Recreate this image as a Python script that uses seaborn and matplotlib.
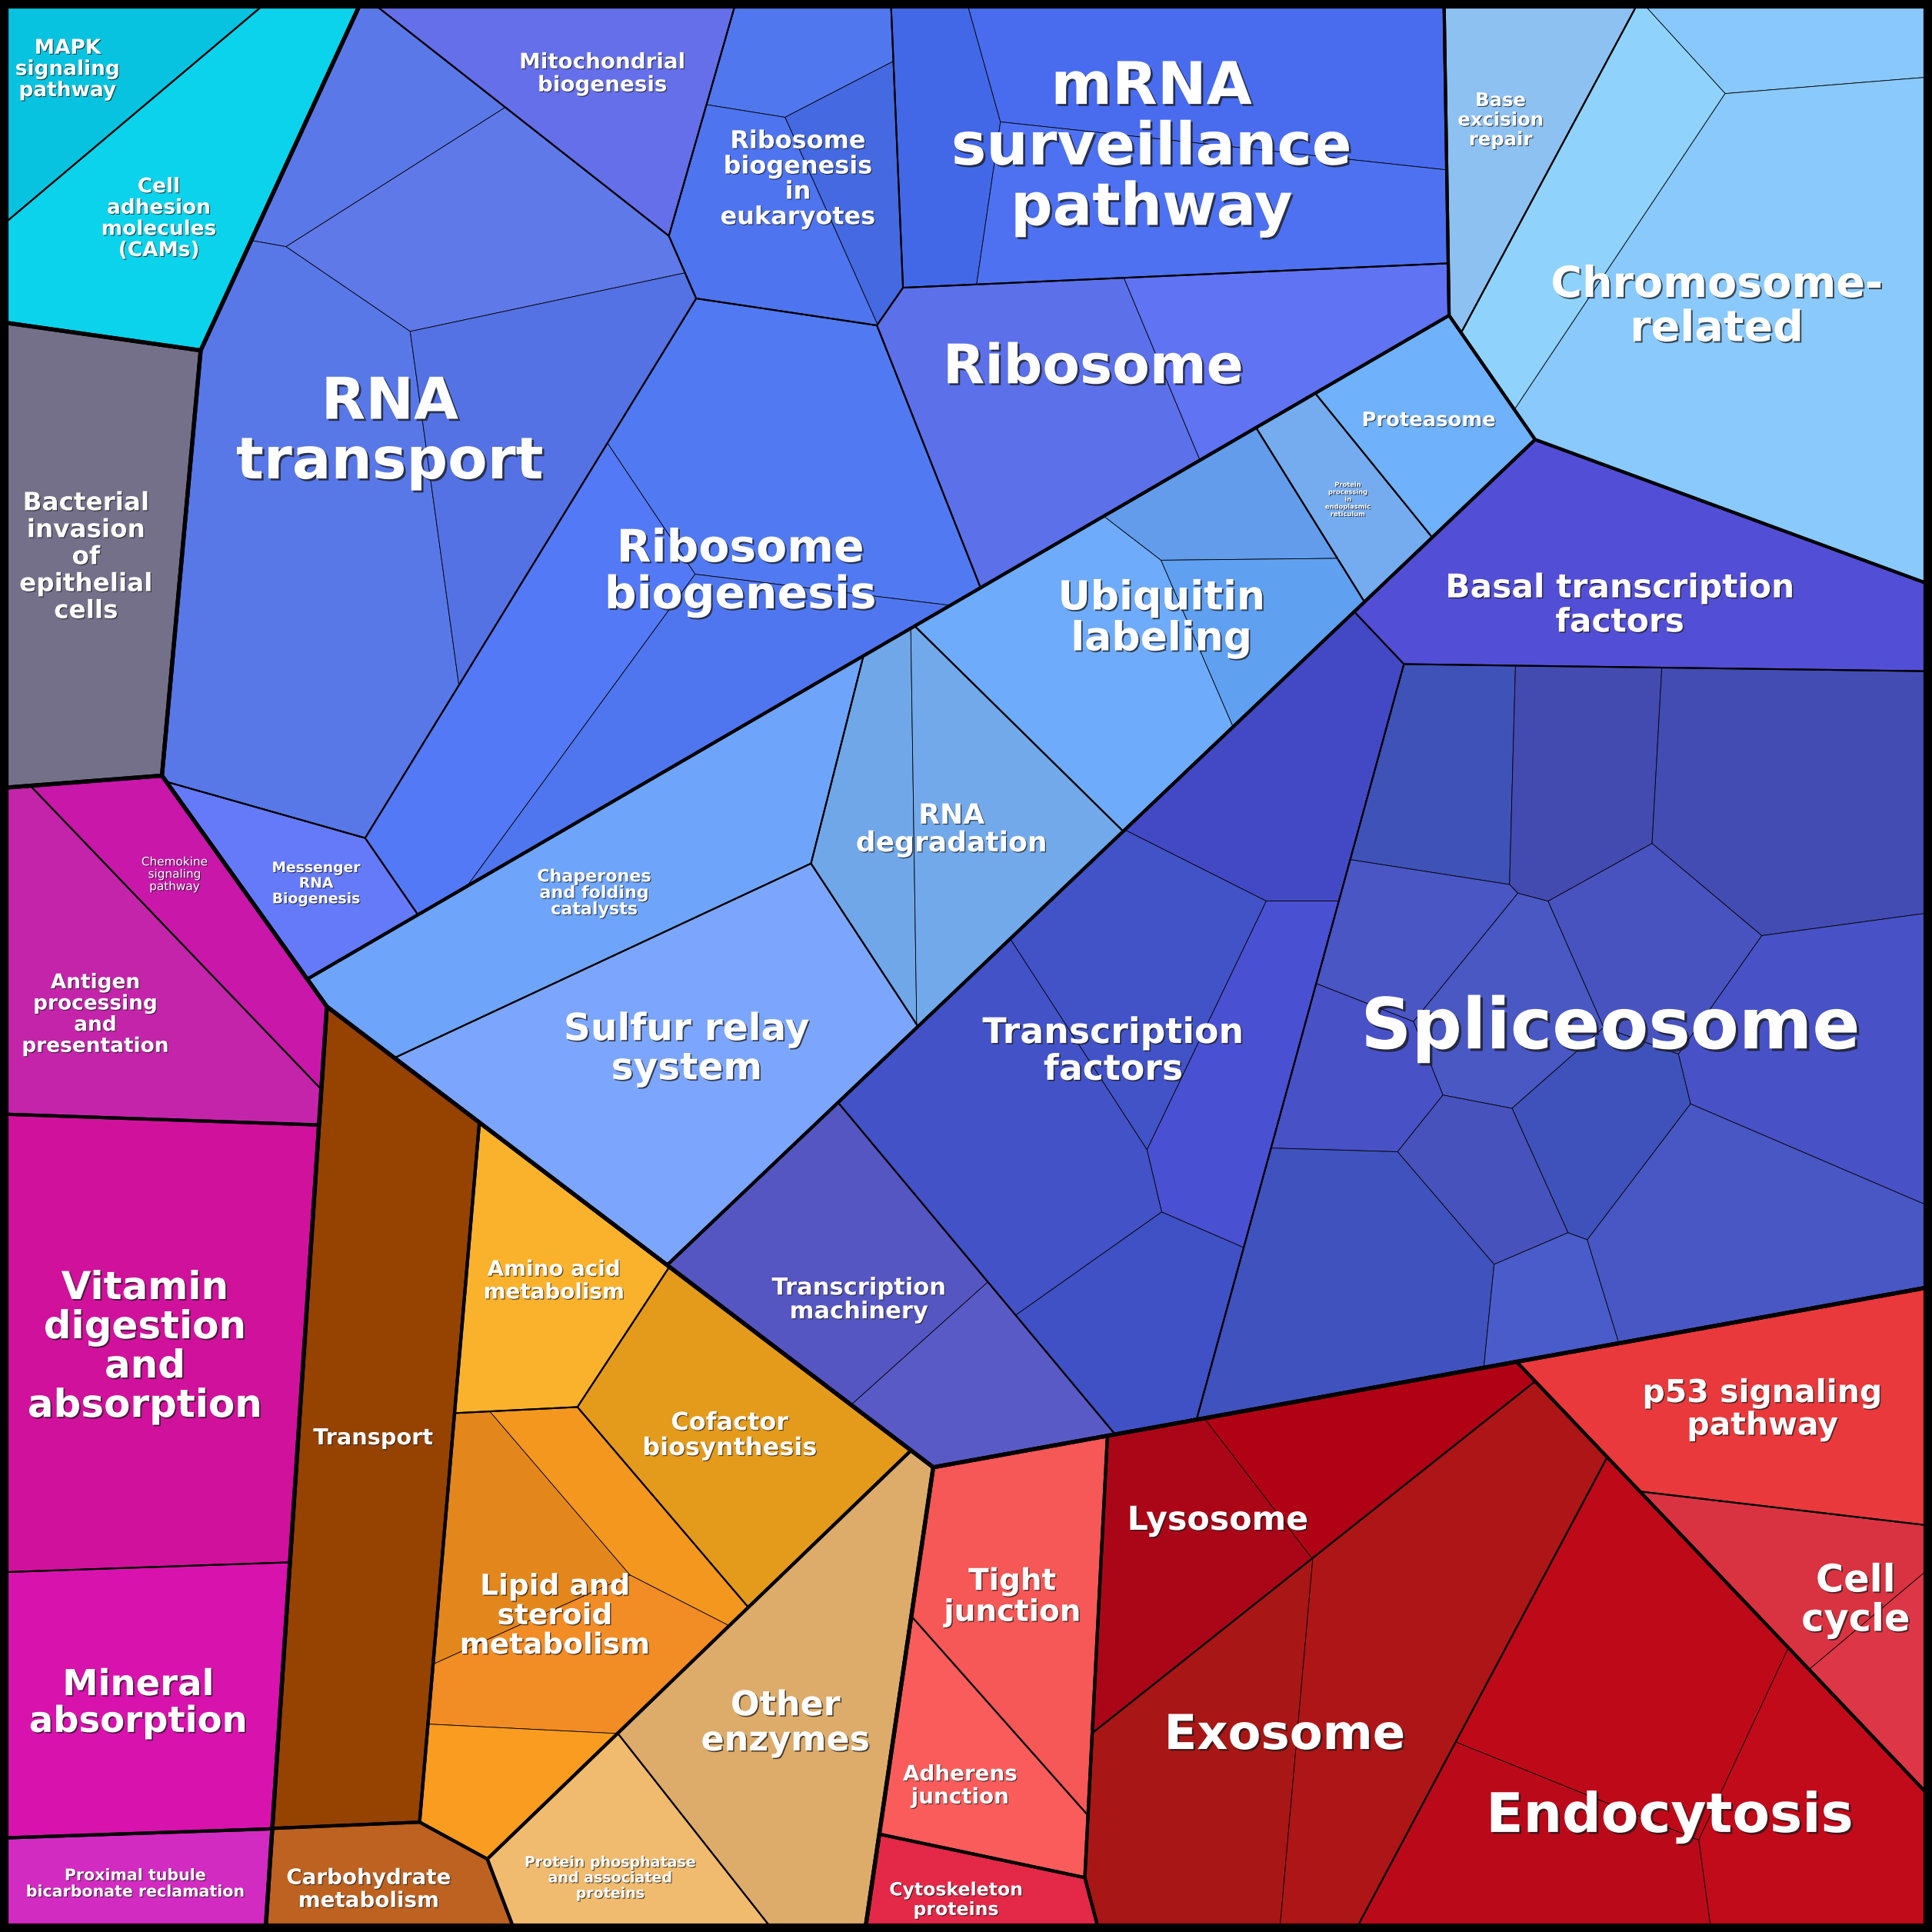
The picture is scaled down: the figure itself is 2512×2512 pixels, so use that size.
import numpy as np
import matplotlib
matplotlib.use("Agg")
import matplotlib.pyplot as plt
import matplotlib.patheffects as pe
from matplotlib.patches import Polygon, Rectangle
import seaborn as sns

# ======================= DATA =======================
level1_names = ["Environmental Information Processing", "Human Diseases", "Organismal Systems",
                "Metabolism", "Genetic Information Processing", "Cellular Processes"]

level2_names = ["Signaling", "Infectious diseases", "Immune system", "Digestive system", "Excretory system",
                "Transport", "Carbohydrate metabolism", "Central metabolism", "Other enzymes",
                "Translation", "Folding, sorting and degradation", "Transcription", "Replication and repair",
                "Transport and catabolism", "Cell growth and death", "Cellular community", "Cell motility"]
level2_parent = [0, 1, 2, 2, 2, 3, 3, 3, 3, 4, 4, 4, 4, 5, 5, 5, 5]

pathway_labels = [
    "MAPK\nsignaling\npathway", "Cell\nadhesion\nmolecules\n(CAMs)",
    "Bacterial\ninvasion\nof\nepithelial\ncells",
    "Chemokine\nsignaling\npathway", "Antigen\nprocessing\nand\npresentation",
    "Vitamin\ndigestion\nand\nabsorption", "Mineral\nabsorption",
    "Proximal tubule\nbicarbonate reclamation",
    "Transport", "Carbohydrate\nmetabolism", "Amino acid\nmetabolism", "Cofactor\nbiosynthesis",
    "Lipid and\nsteroid\nmetabolism", "Other\nenzymes", "Protein phosphatase\nand associated\nproteins",
    "RNA\ntransport", "Mitochondrial\nbiogenesis", "Ribosome\nbiogenesis\nin\neukaryotes",
    "mRNA\nsurveillance\npathway", "Ribosome", "Ribosome\nbiogenesis", "Messenger\nRNA\nBiogenesis",
    "Proteasome", "Protein\nprocessing\nin\nendoplasmic\nreticulum", "Ubiquitin\nlabeling",
    "RNA\ndegradation", "Chaperones\nand folding\ncatalysts", "Sulfur relay\nsystem",
    "Basal transcription\nfactors", "Spliceosome", "Transcription\nfactors", "Transcription\nmachinery",
    "Base\nexcision\nrepair", "Chromosome-\nrelated",
    "Lysosome", "Exosome", "Endocytosis", "p53 signaling\npathway", "Cell\ncycle",
    "Tight\njunction", "Adherens\njunction", "Cytoskeleton\nproteins"]
pathway_parent = [0, 0, 1, 2, 2, 3, 3, 4, 5, 6, 7, 7, 7, 8, 8,
                  9, 9, 9, 9, 9, 9, 9, 10, 10, 10, 10, 10, 10, 11, 11, 11, 11, 12, 12,
                  13, 13, 13, 14, 14, 15, 15, 16]

# protein-level abundances inside each pathway (relative units)
protein_values = [
    [20.1], [42.8], [53.2], [19.0], [41.4], [89.6], [49.1], [17.4],
    [77.0], [15.3], [24.8], [36.2], [17.6, 11.8, 19.0, 10.5], [51.8], [21.2],
    [17.5, 31.5, 85.4, 36.3], [28.5], [11.0, 11.1, 18.6], [16.8, 44.0, 38.7], [41.9, 24.1],
    [50.3, 37.6, 28.5], [14.2],
    [16.3], [10.3], [11.5, 12.7, 34.4], [16.2, 27.9], [49.0], [67.6],
    [56.4], [18.7, 20.0, 43.8, 13.0, 16.1, 17.1, 34.1, 14.2, 12.9, 10.7, 36.9, 8.3, 34.5],
    [27.4, 27.2, 21.5, 41.6, 20.0], [31.8, 16.6],
    [22.6], [14.2, 25.7, 93.0],
    [25.7, 18.9], [37.8, 56.5], [44.7, 30.4, 29.2], [43.7], [16.8, 9.4],
    [31.6], [19.0], [11.0]]

# ======================= LAYOUT / STYLE =======================
W = 1568.0
level1_sites = [(100, 120), (53, 451), (109, 1180), (500.5, 1206), (1008, 538), (1146, 1301)]
level2_sites = [(100, 120), (53, 451), (120, 770), (109, 1090), (124, 1530), (300, 1150), (315, 1505),
                (499, 1167), (688, 1363), (580, 280), (791, 643), (1082, 949), (1332, 268),
                (1284, 1384), (1465, 1212), (815, 1360), (782, 1516)]
pathway_sites = [(73, 61), (170, 176), (60, 450), (172, 721), (100, 790), (115, 1090), (125, 1380),
                 (110, 1530), (300, 1150), (310, 1530), (440, 1055), (565, 1137), (449, 1236),
                 (608, 1427), (490, 1520), (340, 330), (476, 157), (633, 202), (869, 192), (877, 371),
                 (591, 484), (225, 736), (1197, 379.5), (1120, 442), (948, 549), (760, 740), (566, 691),
                 (629, 826), (1313, 456), (1307, 898), (950, 800), (720, 992), (1220, 100), (1440, 218),
                 (1010, 1230), (1122, 1371), (1325, 1479), (1480, 1130), (1460, 1300), (857, 1334),
                 (760, 1420), (800, 1535)]
N = None
protein_sites = [
    [N], [N], [N], [N], [N], [N], [N], [N], [N], [N], [N], [N],
    [(380, 1300), (471, 1222), (404, 1353), (399, 1453)], [N], [N],
    [(280, 80), (355, 198), (224, 390), (391, 367)], [N], [(650, 40), (696, 129), (631, 158)],
    [(765, 115), (986, 53), (976, 146)], [(800, 330), (1030, 234)],
    [(516, 502.5), (430, 560), (502.5, 613)], [N],
    [N], [N], [(1000, 402), (1001, 497), (890, 545)], [(705, 650), (805, 648.5)], [N], [N],
    [N], [(1170, 627), (1280, 630), (1460, 640), (1150, 755), (1230, 820), (1355, 765), (1490, 860),
          (1305, 905), (1105, 870), (1205, 950), (1100, 1040), (1250, 1055), (1430, 1000)],
    [(1015.5, 620), (930, 790), (1015.5, 831), (782, 886), (912, 1070)], [(680, 1020), (760, 1109)],
    [N], [(1433, 30), (1285, 165), (1453, 277)],
    [(955, 1250), (1050, 1177)], [(960, 1400), (1140, 1416)], [(1320, 1330), (1483, 1406), (1278, 1434)],
    [N], [(1490, 1270), (1548, 1339)], [N], [N], [N]]

protein_colors = [
    ["#07c3df"], ["#0bd3eb"], ["#757089"], ["#c917aa"], ["#c424aa"], ["#d0119b"], ["#d812ad"], ["#d22bc1"],
    ["#964200"], ["#bd6221"], ["#fab22c"], ["#e49b1b"], ["#e3871c", "#f4971f", "#f28c25", "#fa9c20"],
    ["#ddab6a"], ["#f0bb6e"],
    ["#5b78e8", "#5f79e9", "#5878e8", "#5472e3"], ["#656fe9"], ["#5077ee", "#4569e0", "#4e74ef"],
    ["#4368e7", "#496cef", "#4d71f1"], ["#5b70e9", "#6073f3"], ["#517af2", "#5479f7", "#5076ef"],
    ["#657af9"],
    ["#6fb2fb"], ["#75acef"], ["#629ceb", "#5fa0f1", "#6eabfb"], ["#70a7e9", "#72a9ea"], ["#6ea5fb"],
    ["#7ca6fd"],
    ["#534ed6"],
    ["#3f52b8", "#434bb0", "#434cb2", "#4a56c4", "#4a58c4", "#4953c0", "#4852c6", "#3f52bb", "#4851c6",
     "#4852bc", "#3f52bd", "#4a5bca", "#4957c4"],
    ["#4349c4", "#4253c8", "#4a50d2", "#4352c7", "#3f51c5"], ["#5556c2", "#5a5ac6"],
    ["#8dc1f1"], ["#89c8fc", "#8fd3fd", "#89c9fc"],
    ["#aa0618", "#b00214"], ["#a81616", "#ae1517"], ["#be0919", "#c10a1a", "#ba0a1a"], ["#e9393c"],
    ["#d93342", "#dd3646"], ["#f65757"], ["#fa5c5c"], ["#e32848"]]

label_sizes = [19, 19, 23.5, 11, 19, 36, 33.5, 14.8, 20.7, 20, 20, 23, 27, 32, 13.7,
               54, 20, 23, 55, 51, 42, 13.5, 18.6, 6, 37.5, 26, 16, 35,
               30.5, 66, 33, 22, 17.5, 40, 30.8, 45, 51, 29.5, 35.6, 28, 20, 17]
label_offsets = [(-18, -5), (-12, 24), (-3, 5), (-18, -23), (-18, 13), (-5, 6), (-2, 4), (-1, 1),
                 (0, 0), (-9, 6), (10, -6), (-3, 0), (4, 0), (-12, 5), (-5, 14),
                 (-3, 6), (9, -4), (0, 12), (-13, 9), (-24, -11), (44, -13), (11, 4),
                 (-1, -1), (3, 4), (6, -5), (6, 5), (-10, 12), (5, -8),
                 (-15, 17), (5, 0), (-26, 3), (-20, -4), (-9, 3), (-20, 30),
                 (-30, 10), (-38, 30), (10, 40), (-5, 1), (17, -4), (-8, 4), (-10, 9), (-12, 5)]
label_weights = ["bold"] * len(pathway_labels)
label_weights[3] = "normal"

LW1, LW2, LW3, LW4, LWF = 3.8, 3.0, 1.5, 0.6, 16
LINESPACING = 1.08


# ======================= power-diagram treemap =======================
def poly_area(v):
    v = np.asarray(v, float)
    x, y = v[:, 0], v[:, 1]
    return 0.5 * abs(np.dot(x, np.roll(y, -1)) - np.dot(y, np.roll(x, -1)))


def poly_centroid(v):
    v = np.asarray(v, float)
    x, y = v[:, 0], v[:, 1]
    x1, y1 = np.roll(x, -1), np.roll(y, -1)
    c = x * y1 - x1 * y
    a = c.sum() / 2.0
    return np.array([((x + x1) * c).sum() / (6 * a), ((y + y1) * c).sum() / (6 * a)])


def clip_halfplane(verts, labels, a, b, lab):
    out_v, out_l = [], []
    n = len(verts)
    for k in range(n):
        p, q = verts[k], verts[(k + 1) % n]
        fp = a[0] * p[0] + a[1] * p[1] - b
        fq = a[0] * q[0] + a[1] * q[1] - b
        if fp <= 0:
            out_v.append(p)
            out_l.append(labels[k])
            if fq > 0:
                t = fp / (fp - fq)
                out_v.append((p[0] + t * (q[0] - p[0]), p[1] + t * (q[1] - p[1])))
                out_l.append(lab)
        elif fq <= 0:
            t = fp / (fp - fq)
            out_v.append((p[0] + t * (q[0] - p[0]), p[1] + t * (q[1] - p[1])))
            out_l.append(labels[k])
    return out_v, out_l


def power_cells(poly, P, w):
    n = len(P)
    sq = (P ** 2).sum(1)
    cells = []
    for i in range(n):
        v = [tuple(p) for p in poly]
        l = [-1] * len(v)
        for j in range(n):
            if j == i:
                continue
            a = 2 * (P[j] - P[i])
            b = sq[j] - sq[i] - w[j] + w[i]
            v, l = clip_halfplane(v, l, a, b, j)
            if len(v) < 3:
                v, l = [], []
                break
        cells.append((v, l))
    return cells


def areas_of(cells):
    return np.array([poly_area(v) if len(v) >= 3 else 0.0 for v, _ in cells])


def inside(poly, q):
    v = np.asarray(poly, float)
    n = len(v)
    s = np.array([(v[(k + 1) % n][0] - v[k][0]) * (q[1] - v[k][1]) -
                  (v[(k + 1) % n][1] - v[k][1]) * (q[0] - v[k][0]) for k in range(n)])
    return (s >= -1e-9).all() or (s <= 1e-9).all()


def power_layout(poly, sites, values):
    n = len(values)
    if n == 1:
        return [list(map(tuple, poly))]
    P = np.array(sites, float)
    T = np.array(values, float)
    T = T / T.sum() * poly_area(poly)
    w = np.zeros(n)
    C = poly_centroid(poly)
    for _ in range(30):
        A = areas_of(power_cells(poly, P, w))
        empty = np.where(A <= 1e-6)[0]
        if len(empty) == 0:
            break
        for i in empty:
            q = P[i].copy()
            t = 0.0
            while not inside(poly, q) and t < 1:
                t += 0.05
                q = P[i] + t * (C - P[i])
            pw = ((q - P) ** 2).sum(1) - w
            w[i] = ((q - P[i]) ** 2).sum() - np.delete(pw, i).min() + 1.0
    for _ in range(120):
        cells = power_cells(poly, P, w)
        A = areas_of(cells)
        err = T - A
        if np.abs(err).max() < 1e-5 * T.min():
            break
        H = np.zeros((n, n))
        for i, (v, l) in enumerate(cells):
            m = len(v)
            for k in range(m):
                j = l[k]
                if j < 0:
                    continue
                L = np.hypot(v[(k + 1) % m][0] - v[k][0], v[(k + 1) % m][1] - v[k][1])
                c = L / (2 * np.linalg.norm(P[i] - P[j]))
                H[i, j] -= c
                H[i, i] += c
        dw = np.linalg.lstsq(H, err, rcond=None)[0]
        eps = 0.5 * min(T.min(), A.min())
        step = 1.0
        while step > 1e-5:
            wn = w + step * dw
            An = areas_of(power_cells(poly, P, wn))
            if An.min() >= eps:
                break
            step *= 0.5
        w = wn
    return [c[0] for c in power_cells(poly, P, w)]


# ----- build hierarchy -----
pathway_tot = [sum(p) for p in protein_values]
n1, n2, n3 = len(level1_names), len(level2_names), len(pathway_labels)
l2_tot = [sum(pathway_tot[k] for k in range(n3) if pathway_parent[k] == j) for j in range(n2)]
l1_tot = [sum(l2_tot[j] for j in range(n2) if level2_parent[j] == i) for i in range(n1)]

square = [(0.0, 0.0), (W, 0.0), (W, W), (0.0, W)]
l1_cells = power_layout(square, level1_sites, l1_tot)

l2_cells = [None] * n2
for i in range(n1):
    kids = [j for j in range(n2) if level2_parent[j] == i]
    cs = power_layout(l1_cells[i], [level2_sites[j] for j in kids], [l2_tot[j] for j in kids])
    for j, c in zip(kids, cs):
        l2_cells[j] = c

pw_cells = [None] * n3
for j in range(n2):
    kids = [k for k in range(n3) if pathway_parent[k] == j]
    cs = power_layout(l2_cells[j], [pathway_sites[k] for k in kids], [pathway_tot[k] for k in kids])
    for k, c in zip(kids, cs):
        pw_cells[k] = c

prot_cells = []
for k in range(n3):
    if len(protein_values[k]) == 1:
        prot_cells.append([pw_cells[k]])
    else:
        prot_cells.append(power_layout(pw_cells[k], protein_sites[k], protein_values[k]))

# ======================= DRAW =======================
sns.set_theme(style="white")
plt.rcParams["font.family"] = ["DejaVu Sans"]

fig = plt.figure(figsize=(25.12, 25.12), dpi=100)
ax = fig.add_axes([0, 0, 1, 1])
ax.set_xlim(0, W)
ax.set_ylim(W, 0)
ax.axis("off")

for k in range(n3):
    multi = len(protein_values[k]) > 1
    for c, col in zip(prot_cells[k], protein_colors[k]):
        if len(c) >= 3:
            ax.add_patch(Polygon(np.asarray(c), closed=True, facecolor=col, edgecolor="black",
                                 linewidth=LW4 if multi else 0.0, joinstyle="round", zorder=1))
for k in range(n3):
    ax.add_patch(Polygon(np.asarray(pw_cells[k]), closed=True, facecolor="none", edgecolor="black",
                         linewidth=LW3, joinstyle="round", zorder=2))
for j in range(n2):
    ax.add_patch(Polygon(np.asarray(l2_cells[j]), closed=True, facecolor="none", edgecolor="black",
                         linewidth=LW2, joinstyle="round", zorder=3))
for i in range(n1):
    ax.add_patch(Polygon(np.asarray(l1_cells[i]), closed=True, facecolor="none", edgecolor="black",
                         linewidth=LW1, joinstyle="round", zorder=4))
ax.add_patch(Rectangle((0, 0), W, W, facecolor="none", edgecolor="black", linewidth=LWF, zorder=5))

for k in range(n3):
    cx, cy = poly_centroid(pw_cells[k])
    dx, dy = label_offsets[k]
    fs = label_sizes[k]
    sh = max(0.8, fs / 28.0)
    ax.text(cx + dx, cy + dy, pathway_labels[k], ha="center", va="center", multialignment="center",
            fontsize=fs, fontweight=label_weights[k], color="white", linespacing=LINESPACING, zorder=6,
            path_effects=[pe.withSimplePatchShadow(offset=(sh, -sh), shadow_rgbFace="#1a1a1a", alpha=0.75)])

fig.savefig("out.png", dpi=100)
